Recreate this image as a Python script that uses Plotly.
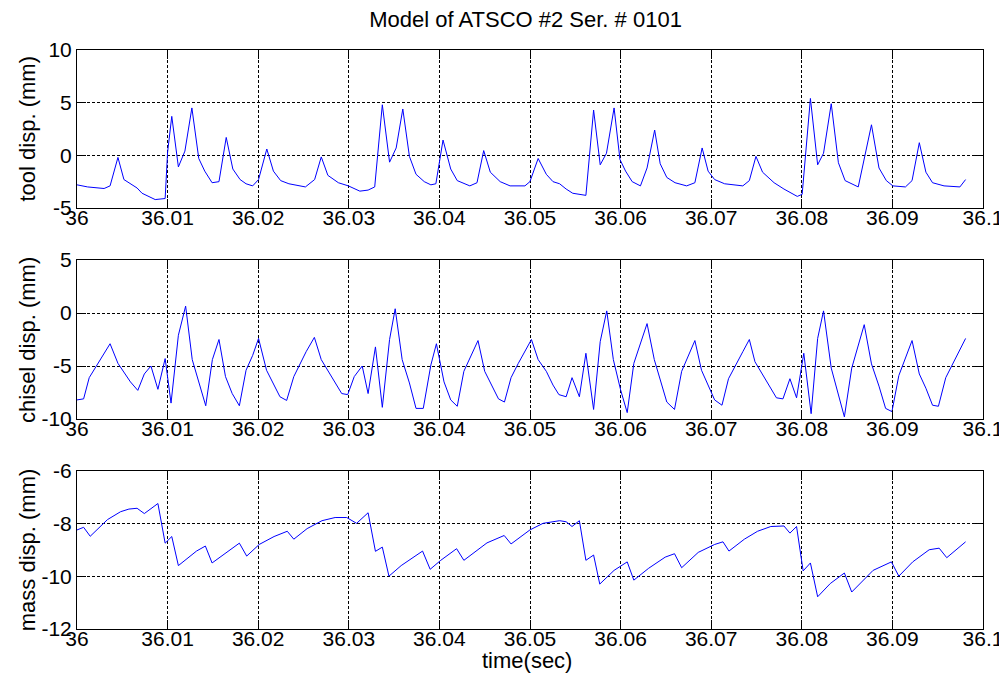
import plotly.graph_objects as go
from plotly.subplots import make_subplots

# ---------------- data ----------------
t_tool = [36.0, 36.00117, 36.00299, 36.00365, 36.00452, 36.00518, 36.00663, 36.00718,
          36.00863, 36.00973, 36.01000, 36.01046, 36.01119, 36.01191, 36.01268, 36.01344,
          36.01410, 36.01491, 36.01567, 36.01647, 36.01720, 36.01800, 36.01866, 36.01939,
          36.02004, 36.02095, 36.02168, 36.02248, 36.02339, 36.02521, 36.02623, 36.02696,
          36.02769, 36.02885, 36.02995, 36.03122, 36.03213, 36.03286, 36.03370, 36.03450,
          36.03523, 36.03596, 36.03669, 36.03742, 36.03833, 36.03906, 36.03961, 36.04040,
          36.04125, 36.04197, 36.04336, 36.04415, 36.04489, 36.04562, 36.04671, 36.04780,
          36.04944, 36.04999, 36.05090, 36.05180, 36.05254, 36.05327, 36.05399, 36.05472,
          36.05617, 36.05702, 36.05775, 36.05844, 36.05928, 36.05993, 36.06055, 36.06128,
          36.06219, 36.06292, 36.06376, 36.06437, 36.06510, 36.06601, 36.06729, 36.06820,
          36.06900, 36.06966, 36.07038, 36.07148, 36.07349, 36.07421, 36.07494, 36.07567,
          36.07694, 36.07803, 36.07950, 36.08004, 36.08095, 36.08175, 36.08240, 36.08325,
          36.08404, 36.08478, 36.08623, 36.08769, 36.08852, 36.08933, 36.09005, 36.09144,
          36.09217, 36.09297, 36.09370, 36.09443, 36.09570, 36.09745, 36.09808]
tool_disp = [-2.8, -3.0, -3.15, -2.9, -0.2, -2.3, -3.1, -3.6,
             -4.2, -4.1, 0.3, 3.7, -1.1, 0.4, 4.5, -0.3,
             -1.5, -2.6, -2.5, 1.7, -1.3, -2.3, -2.7, -2.9,
             -2.3, 0.6, -1.5, -2.4, -2.7, -3.0, -2.3, -0.15,
             -1.9, -2.6, -2.9, -3.4, -3.3, -3.0, 4.8, -0.65,
             0.7, 4.4, -0.1, -1.8, -2.5, -2.8, -2.7, 1.45,
             -1.3, -2.4, -2.9, -2.6, 0.45, -1.6, -2.5, -2.9,
             -2.9, -2.5, -0.3, -1.8, -2.5, -2.7, -3.2, -3.6,
             -3.8, 4.3, -0.9, 0.2, 4.5, -0.4, -1.5, -2.5,
             -2.9, -1.2, 2.4, -0.8, -2.1, -2.6, -2.9, -2.6,
             0.7, -1.5, -2.3, -2.7, -2.9, -2.4, -0.1, -1.6,
             -2.6, -3.2, -3.9, -3.7, 5.4, -0.9, 0.2, 4.9,
             -0.7, -2.4, -3.0, 2.9, -1.2, -2.4, -2.9, -3.0,
             -2.4, 1.2, -1.6, -2.6, -2.9, -3.0, -2.3]

t_chisel = [36.0, 36.00073, 36.00135, 36.00365, 36.00452, 36.00518, 36.00590, 36.00671,
            36.00743, 36.00816, 36.00893, 36.00973, 36.01038, 36.01119, 36.01199, 36.01272,
            36.01349, 36.01421, 36.01494, 36.01567, 36.01639, 36.01713, 36.01792, 36.01866,
            36.01939, 36.02004, 36.02092, 36.02175, 36.02240, 36.02314, 36.02393, 36.02529,
            36.02620, 36.02696, 36.02769, 36.02922, 36.02988, 36.03060, 36.03148, 36.03213,
            36.03294, 36.03370, 36.03450, 36.03512, 36.03589, 36.03669, 36.03742, 36.03822,
            36.03906, 36.03967, 36.04051, 36.04125, 36.04197, 36.04270, 36.04426, 36.04500,
            36.04652, 36.04718, 36.04791, 36.04871, 36.05016, 36.05090, 36.05180, 36.05254,
            36.05319, 36.05399, 36.05464, 36.05545, 36.05617, 36.05702, 36.05775, 36.05847,
            36.05920, 36.06000, 36.06073, 36.06146, 36.06292, 36.06372, 36.06510, 36.06595,
            36.06674, 36.06820, 36.06893, 36.07038, 36.07119, 36.07191, 36.07349, 36.07421,
            36.07483, 36.07639, 36.07720, 36.07792, 36.07869, 36.07942, 36.08022, 36.08103,
            36.08175, 36.08240, 36.08325, 36.08470, 36.08551, 36.08689, 36.08769, 36.08852,
            36.08925, 36.08995, 36.09071, 36.09217, 36.09297, 36.09370, 36.09443, 36.09508,
            36.09589, 36.09808]
chisel_disp = [-8.2, -8.1, -6.1, -2.9, -4.75, -5.6, -6.5, -7.3,
               -5.75, -5.0, -7.2, -4.3, -8.5, -2.1, 0.65, -4.4,
               -6.6, -8.75, -4.4, -2.5, -6.0, -7.6, -8.75, -5.4,
               -4.0, -2.4, -5.4, -6.8, -7.9, -8.25, -6.0, -3.65,
               -2.3, -4.4, -5.4, -7.6, -7.7, -6.0, -5.0, -7.6,
               -3.2, -8.9, -2.5, 0.4, -4.4, -6.6, -9.0, -9.0,
               -4.9, -2.9, -6.5, -8.2, -8.8, -5.5, -2.6, -5.5,
               -8.1, -8.4, -6.1, -4.75, -2.5, -4.4, -5.5, -6.8,
               -7.7, -7.9, -6.1, -7.9, -3.8, -9.1, -2.7, 0.2,
               -4.4, -7.25, -9.4, -4.75, -1.0, -4.4, -8.4, -9.1,
               -5.5, -2.6, -5.4, -8.2, -8.7, -6.2, -3.65, -2.5,
               -4.6, -6.8, -8.0, -8.1, -6.2, -8.0, -3.8, -9.5,
               -2.4, 0.2, -5.2, -9.8, -5.2, -1.1, -4.8, -6.9,
               -9.0, -9.3, -5.9, -2.6, -5.75, -7.1, -8.7, -8.8,
               -6.1, -2.4]

t_mass = [36.0, 36.00073, 36.00146, 36.00226, 36.00336, 36.00481, 36.00573, 36.00663,
          36.00743, 36.00893, 36.00973, 36.01046, 36.01119, 36.01319, 36.01417, 36.01491,
          36.01611, 36.01792, 36.01873, 36.02011, 36.02175, 36.02321, 36.02393, 36.02540,
          36.02704, 36.02849, 36.02977, 36.03086, 36.03213, 36.03294, 36.03370, 36.03443,
          36.03578, 36.03814, 36.03898, 36.04015, 36.04190, 36.04270, 36.04525, 36.04715,
          36.04791, 36.04999, 36.05144, 36.05327, 36.05399, 36.05464, 36.05545, 36.05617,
          36.05702, 36.05770, 36.05928, 36.06073, 36.06146, 36.06310, 36.06492, 36.06595,
          36.06674, 36.06857, 36.07038, 36.07130, 36.07196, 36.07366, 36.07512, 36.07658,
          36.07803, 36.07869, 36.07942, 36.08015, 36.08095, 36.08175, 36.08314, 36.08470,
          36.08551, 36.08787, 36.08989, 36.09071, 36.09224, 36.09406, 36.09516, 36.09600,
          36.09808]
mass_disp = [-8.25, -8.15, -8.49, -8.24, -7.86, -7.56, -7.46, -7.43,
             -7.63, -7.25, -8.75, -8.5, -9.6, -9.05, -8.86, -9.5,
             -9.2, -8.75, -9.24, -8.8, -8.5, -8.3, -8.6, -8.2,
             -7.9, -7.78, -7.78, -8.0, -7.6, -9.06, -8.9, -10.0,
             -9.6, -9.05, -9.74, -9.4, -8.96, -9.4, -8.74, -8.46,
             -8.78, -8.25, -8.0, -7.9, -7.94, -8.12, -7.9, -9.4,
             -9.2, -10.3, -9.78, -9.46, -10.15, -9.7, -9.28, -9.15,
             -9.68, -9.1, -8.8, -8.7, -9.05, -8.6, -8.3, -8.12,
             -8.1, -8.37, -8.12, -9.8, -9.5, -10.78, -10.28, -9.88,
             -10.6, -9.78, -9.46, -10.0, -9.46, -9.0, -8.94, -9.3,
             -8.7]

x_tick_vals = [36.0, 36.01, 36.02, 36.03, 36.04, 36.05, 36.06, 36.07, 36.08, 36.09, 36.1]
x_tick_text = ["36", "36.01", "36.02", "36.03", "36.04", "36.05", "36.06", "36.07", "36.08", "36.09", "36.1"]

tool_ticks = [10, 5, 0, -5]
tool_tick_text = ["10", "5", "0", "-5"]
chisel_ticks = [5, 0, -5, -10]
chisel_tick_text = ["5", "0", "-5", "-10"]
mass_ticks = [-6, -8, -10, -12]
mass_tick_text = ["-6", "-8", "-10", "-12"]

title_text = "Model of ATSCO #2 Ser. # 0101"
y_labels = ["tool disp. (mm)", "chisel disp. (mm)", "mass disp. (mm)"]
x_label = "time(sec)"

# ---------------- figure ----------------
FONT = "Liberation Sans, Arial, sans-serif"
W, H = 1007, 675
ML, MR, MT, MB = 69, 23, 42, 54
plot_h = H - MT - MB

fig = make_subplots(rows=3, cols=1, shared_xaxes=False, vertical_spacing=0.0)

series = [(t_tool, tool_disp), (t_chisel, chisel_disp), (t_mass, mass_disp)]
for i, (tx, ty) in enumerate(series, start=1):
    fig.add_trace(go.Scatter(x=tx, y=ty, mode="lines",
                             line=dict(color="#0000FF", width=1),
                             showlegend=False, hoverinfo="skip"), row=i, col=1)

# pixel positions of each subplot (top, bottom)
boxes = [(42, 200), (252, 411), (462.5, 621)]
def frac(py):
    return (H - MB - py) / plot_h

yranges = [[-5, 10], [-10, 5], [-12, -6]]
yticks = [(tool_ticks, tool_tick_text), (chisel_ticks, chisel_tick_text), (mass_ticks, mass_tick_text)]

axis_common = dict(showline=True, linecolor="black", linewidth=1, mirror="ticks",
                   ticks="inside", ticklen=9, tickwidth=1, tickcolor="black",
                   showgrid=True, gridcolor="black", gridwidth=1, griddash="3px,2px",
                   zeroline=False, tickfont=dict(family=FONT, size=21, color="black"))

for i in range(3):
    xa = "xaxis" if i == 0 else f"xaxis{i+1}"
    ya = "yaxis" if i == 0 else f"yaxis{i+1}"
    top, bot = boxes[i]
    fig.layout[ya].update(domain=[frac(bot), frac(top)], range=yranges[i],
                          tickmode="array", tickvals=yticks[i][0], ticktext=yticks[i][1],
                          **axis_common)
    fig.layout[xa].update(range=[36.0, 36.1], tickmode="array",
                          tickvals=x_tick_vals, ticktext=x_tick_text,
                          ticklabelstandoff=-9, **axis_common)

annotations = []
for i, lab in enumerate(y_labels):
    top, bot = boxes[i]
    annotations.append(dict(text=lab, xref="paper", yref="paper",
                            x=(19 - ML) / (W - ML - MR), y=frac((top + bot) / 2),
                            xanchor="center", yanchor="middle", textangle=-90,
                            showarrow=False, font=dict(family=FONT, size=22, color="black")))
annotations.append(dict(text=x_label, xref="paper", yref="paper",
                        x=(523 - ML) / (W - ML - MR), y=frac(652),
                        xanchor="center", yanchor="middle", showarrow=False,
                        font=dict(family=FONT, size=22, color="black")))

fig.update_layout(width=W, height=H, autosize=False,
                  margin=dict(l=ML, r=MR, t=MT, b=MB, pad=0),
                  paper_bgcolor="white", plot_bgcolor="white",
                  title=dict(text=title_text, x=(522 - ML) / (W - ML - MR), xref="paper",
                             xanchor="center", y=1 - 11 / H, yref="container", yanchor="middle",
                             font=dict(family=FONT, size=22, color="black")),
                  annotations=annotations)

fig.write_html("out.html")
